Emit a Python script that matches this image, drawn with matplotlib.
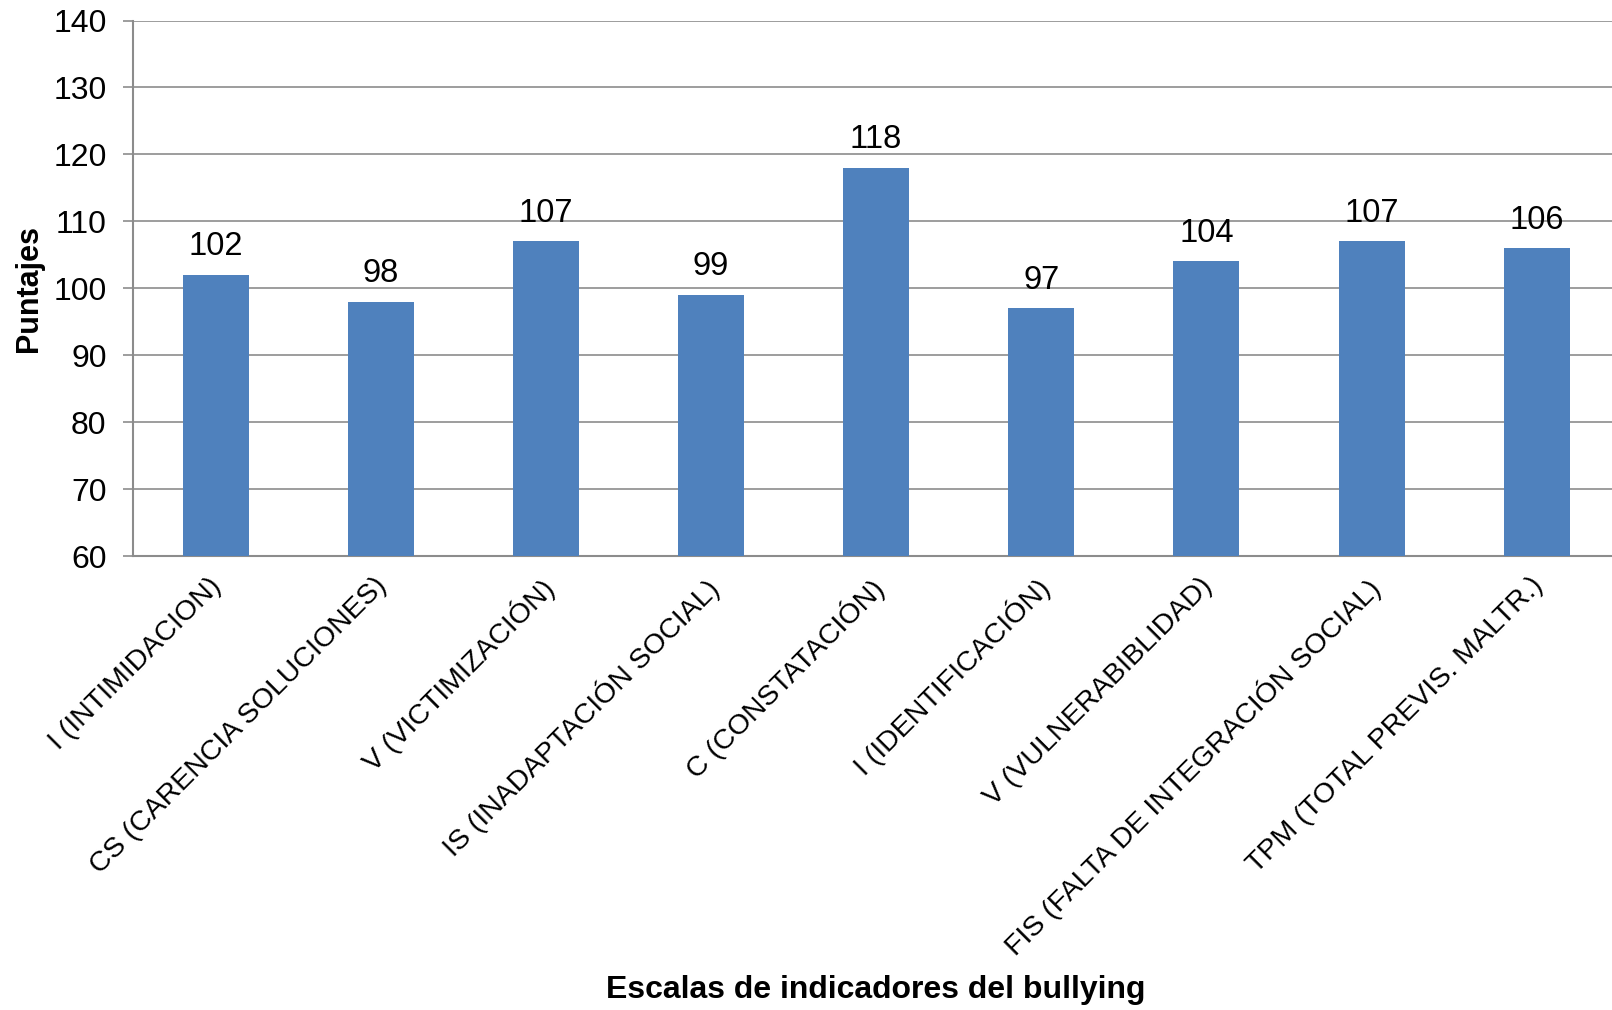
import matplotlib
matplotlib.use("Agg")
import matplotlib.pyplot as plt
from matplotlib.transforms import ScaledTranslation

plt.rcParams['font.family'] = ['Liberation Sans', 'DejaVu Sans']

# Scale names and their scores
escalas = [
    'I (INTIMIDACION)',
    'CS (CARENCIA SOLUCIONES)',
    'V (VICTIMIZACIÓN)',
    'IS (INADAPTACIÓN SOCIAL)',
    'C (CONSTATACIÓN)',
    'I (IDENTIFICACIÓN)',
    'V (VULNERABIBLIDAD)',
    'FIS (FALTA DE INTEGRACIÓN SOCIAL)',
    'TPM (TOTAL PREVIS. MALTR.)',
]
puntajes = [102, 98, 107, 99, 118, 97, 104, 107, 106]
y_ticks = [60, 70, 80, 90, 100, 110, 120, 130, 140]

BAR_COLOR = '#4F81BD'
GRID_COLOR = '#8C8C8C'

fig = plt.figure(figsize=(16.12, 10.10), dpi=100)
ax = fig.add_axes([0.0825, 0.4495, 0.922, 0.5302])

x = range(len(escalas))
bars = ax.bar(x, puntajes, width=0.4, color=BAR_COLOR, zorder=3)

# Value labels above each bar
for rect, val in zip(bars, puntajes):
    ax.annotate(f'{val}', xy=(rect.get_x() + rect.get_width() / 2, val),
                xytext=(0, 9), textcoords='offset points',
                ha='center', va='bottom', fontsize=23.5, color='black')

ax.set_ylim(60, 140)
ax.set_xlim(-0.5, len(escalas) - 0.5)
ax.set_yticks(y_ticks)
ax.tick_params(axis='y', labelsize=23, length=7, width=1.2, color=GRID_COLOR, pad=12)
ax.tick_params(axis='x', length=0, pad=12)
ax.set_xticks(list(x))
ax.set_xticklabels(escalas, rotation=45, ha='right', va='top',
                   rotation_mode='anchor', fontsize=20.5)

# nudge the slanted labels a little to the left
shift = ScaledTranslation(-5 / 72, 0, fig.dpi_scale_trans)
for lbl in ax.get_xticklabels():
    lbl.set_transform(lbl.get_transform() + shift)

ax.yaxis.grid(True, color=GRID_COLOR, linewidth=1.2, zorder=0)
for side in ['top', 'right']:
    ax.spines[side].set_visible(False)
for side in ['left', 'bottom']:
    ax.spines[side].set_color(GRID_COLOR)
    ax.spines[side].set_linewidth(1.5)

ax.set_ylabel('Puntajes', fontsize=22, fontweight='bold')
ax.yaxis.set_label_coords(-0.06, 0.5)
fig.text(0.5434, 0.02, 'Escalas de indicadores del bullying', ha='center', va='center',
         fontsize=23, fontweight='bold')

fig.savefig('out.png', dpi=100)
